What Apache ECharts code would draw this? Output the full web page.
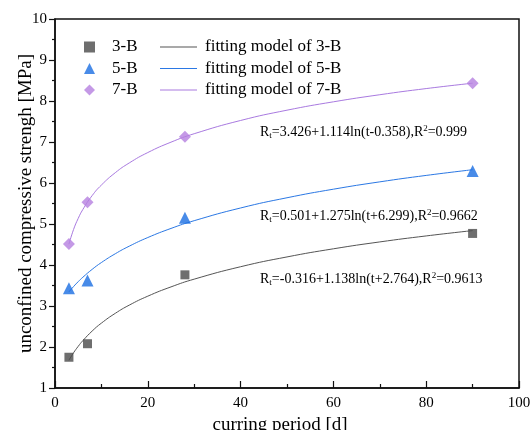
<!DOCTYPE html>
<html>
<head>
<meta charset="utf-8">
<script src="https://cdn.jsdelivr.net/npm/echarts@6/dist/echarts.min.js"></script>
<style>html,body{margin:0;padding:0;background:#fff;}#c{width:531px;height:430px;}</style>
</head>
<body>
<div id="c"></div>
<script>
// measured data
const tDays = [3, 7, 28, 90];
const s3B = [1.75, 2.08, 3.76, 4.77];
const s5B = [3.43, 3.62, 5.15, 6.29];
const s7B = [4.51, 5.53, 7.13, 8.43];
// fitting curves (values read along the printed fitting model)
const fitT = [3, 4, 5, 6, 8, 10, 13, 16, 20, 25, 30, 40, 50, 60, 70, 80, 90];
const fit3B = [1.677, 1.859, 2.016, 2.154, 2.388, 2.582, 2.822, 3.021, 3.240, 3.466, 3.655, 3.958, 4.197, 4.395, 4.563, 4.709, 4.839];
const fit5B = [3.344, 3.474, 3.593, 3.701, 3.893, 4.060, 4.275, 4.459, 4.670, 4.892, 5.081, 5.391, 5.640, 5.849, 6.028, 6.185, 6.324];
const fit7B = [4.508, 4.866, 5.136, 5.353, 5.692, 5.950, 6.252, 6.489, 6.743, 6.996, 7.202, 7.525, 7.776, 7.980, 8.153, 8.303, 8.434];
const xTicks = [0, 20, 40, 60, 80, 100];
const yTicks = [1, 2, 3, 4, 5, 6, 7, 8, 9, 10];
const eqTexts = [
  ['3.426+1.114ln(t-0.358)', '0.999'],
  ['0.501+1.275ln(t+6.299)', '0.9662'],
  ['-0.316+1.138ln(t+2.764)', '0.9613']
];

const FONT = 'Liberation Serif';
const C3 = '#4a4a4a', C3L = '#555555';
const C5 = '#1a6ee2', C5L = '#2b78e4';
const C7 = '#b57fe0', C7L = '#a97ae0';

function pairs(xs, ys) { return xs.map((x, i) => [x, ys[i]]); }

const chart = echarts.init(document.getElementById('c'));
const eqTop = [124, 208, 271];
const rich = {
  r: { fontFamily: FONT, fontSize: 14, lineHeight: 16, color: '#000' },
  s: { fontFamily: FONT, fontSize: 9, lineHeight: 9, verticalAlign: 'bottom', color: '#000' },
  p: { fontFamily: FONT, fontSize: 9, lineHeight: 9, verticalAlign: 'top', color: '#000' }
};
const graphics = eqTexts.map((e, i) => ({
  type: 'text',
  left: 260,
  top: eqTop[i],
  style: {
    text: '{r|R}{s|t}{r|=' + e[0] + ',R}{p|2}{r|=' + e[1] + '}',
    rich: rich,
    fill: '#000',
    font: '14px ' + FONT
  }
}));

chart.setOption({
  animation: false,
  backgroundColor: '#fff',
  textStyle: { fontFamily: FONT },
  grid: { left: 55, right: 12, top: 19, bottom: 42, containLabel: false, outerBoundsMode: 'none',
    show: true, borderColor: '#111', borderWidth: 1.5, backgroundColor: 'transparent' },
  xAxis: {
    type: 'value', min: 0, max: 100, interval: 20,
    name: 'curring period [d]', nameLocation: 'middle', nameGap: 25,
    nameTextStyle: { fontFamily: FONT, fontSize: 19, color: '#000', padding: [0, 14, 0, 0] },
    axisLine: { show: true, lineStyle: { color: '#111', width: 1.5 } },
    axisTick: { show: true, inside: true, length: 7, lineStyle: { color: '#111', width: 1.2 } },
    minorTick: { show: true, splitNumber: 2, length: 4, lineStyle: { color: '#111', width: 1.2 } },
    axisLabel: { fontFamily: FONT, fontSize: 15, color: '#000', margin: 8,
      customValues: xTicks },
    splitLine: { show: false }
  },
  yAxis: {
    type: 'value', min: 1, max: 10, interval: 1,
    name: 'unconfined compressive strengh [MPa]', nameLocation: 'middle', nameGap: 19,
    nameMoveOverlap: false,
    nameTextStyle: { fontFamily: FONT, fontSize: 19, color: '#000' },
    axisLine: { show: true, lineStyle: { color: '#111', width: 1.5 } },
    axisTick: { show: true, inside: false, length: 6, lineStyle: { color: '#111', width: 1.2 } },
    minorTick: { show: true, splitNumber: 2, length: 3, lineStyle: { color: '#111', width: 1.2 } },
    axisLabel: { fontFamily: FONT, fontSize: 15, color: '#000', margin: 8 },
    splitLine: { show: false }
  },
  legend: [
    {
      orient: 'vertical', left: 79, top: 33, itemWidth: 11, itemHeight: 11, itemGap: 3.5,
      data: ['3-B', '5-B', '7-B'],
      textStyle: { fontFamily: FONT, fontSize: 17, color: '#000', lineHeight: 18, padding: [0, 0, 0, 12] }
    },
    {
      orient: 'vertical', left: 155, top: 33, itemWidth: 37, itemHeight: 1.2, itemGap: 3.5,
      icon: 'rect',
      data: ['fitting model of 3-B', 'fitting model of 5-B', 'fitting model of 7-B'],
      textStyle: { fontFamily: FONT, fontSize: 17, color: '#000', lineHeight: 18, padding: [0, 0, 0, 3] }
    }
  ],
  graphic: graphics,
  series: [
    { name: 'fitting model of 3-B', type: 'line', data: pairs(fitT, fit3B), smooth: true, symbol: 'none', lineStyle: { color: C3L, width: 1 }, itemStyle: { color: C3L } },
    { name: 'fitting model of 5-B', type: 'line', data: pairs(fitT, fit5B), smooth: true, symbol: 'none', lineStyle: { color: C5L, width: 1 }, itemStyle: { color: C5L } },
    { name: 'fitting model of 7-B', type: 'line', data: pairs(fitT, fit7B), smooth: true, symbol: 'none', lineStyle: { color: C7L, width: 1 }, itemStyle: { color: C7L } },
    { name: '3-B', type: 'scatter', data: pairs(tDays, s3B), symbol: 'rect', symbolSize: 9, itemStyle: { color: C3 }, z: 5 },
    { name: '5-B', type: 'scatter', data: pairs(tDays, s5B), symbol: 'triangle', symbolSize: 12, itemStyle: { color: C5 }, z: 5 },
    { name: '7-B', type: 'scatter', data: pairs(tDays, s7B), symbol: 'diamond', symbolSize: 12, itemStyle: { color: C7 }, z: 5 }
  ]
});
</script>
</body>
</html>
